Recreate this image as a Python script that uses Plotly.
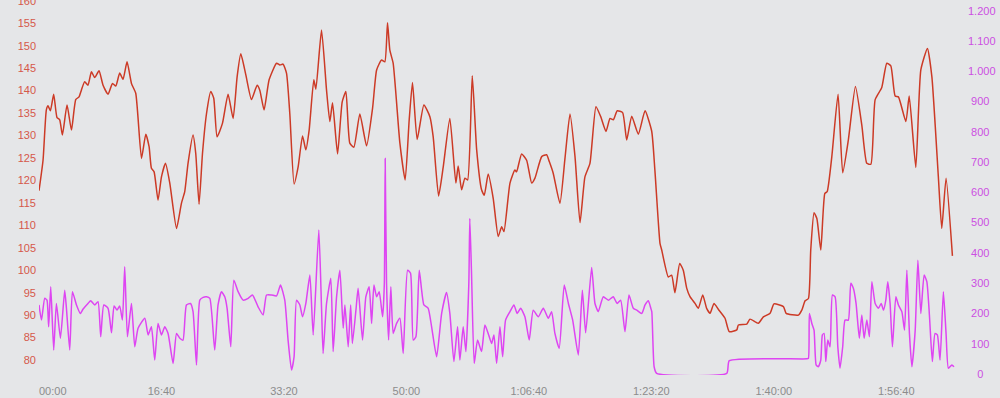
import plotly.graph_objects as go

# ---- data (time in seconds) ----
hr_time = [0, 33, 60, 74, 93, 120, 147, 169, 191, 229, 265, 300, 327, 346, 373, 400, 428, 455, 490, 523,
           564, 600, 627, 659, 686, 719, 755, 790, 837, 872, 899, 918, 940, 972, 1000, 1033, 1068, 1123, 1163, 1190,
           1217, 1258, 1280, 1307, 1335, 1368, 1403, 1427, 1454, 1498, 1544, 1585, 1618, 1648, 1689, 1735, 1781, 1803, 1838, 1879,
           1940, 1967, 1993, 2021, 2048, 2083, 2116, 2152, 2179, 2206, 2244, 2261, 2307, 2348, 2375, 2397, 2438, 2476, 2506, 2538,
           2571, 2620, 2675, 2724, 2757, 2797, 2824, 2846, 2865, 2892, 2947, 2990, 3023, 3050, 3088, 3143, 3192, 3219, 3263, 3301,
           3355, 3404, 3423, 3451, 3478, 3500, 3538, 3574, 3614, 3636, 3668, 3709, 3750, 3778, 3797, 3846, 3886, 3900, 3941, 3982,
           4023, 4050, 4105, 4145, 4167, 4199, 4254, 4295, 4336, 4377, 4418, 4458, 4499, 4548, 4587, 4630, 4663, 4690, 4722, 4766,
           4799, 4840, 4894, 4949, 5003, 5030, 5071, 5085, 5139, 5166, 5193, 5232, 5261, 5289, 5316, 5357, 5384, 5420, 5452, 5480,
           5512, 5547, 5602, 5637, 5698, 5711, 5780, 5806, 5874, 5915, 5970, 6002, 6079, 6101, 6201, 6229, 6256, 6283, 6302, 6329,
           6352, 6384, 6417, 6436, 6474, 6525, 6563, 6609, 6667, 6719, 6760, 6793, 6828, 6882, 6923, 6956, 6991, 7018, 7079, 7106,
           7160, 7201, 7255, 7291, 7344, 7372, 7407, 7459]
hr_bpm = [117.7, 124.5, 135.7, 136.6, 135.5, 139.2, 134, 133.5, 130.1, 136.8, 131.2, 138, 138.6, 140.1, 142, 141.2, 144.2, 142.9, 144.4, 141.2,
          139.2, 141.6, 141, 143.9, 142.5, 146.4, 141.6, 139.4, 124.9, 130.3, 127.5, 122.7, 121.9, 115.6, 120.8, 123.8, 119.4, 109.3, 114.9, 117.5,
          123.8, 130.1, 126, 114.7, 126, 134.9, 139.8, 138.3, 129.7, 132.7, 139.2, 133.8, 143.1, 148.2, 143.5, 138, 141.2, 140.1, 135.7, 142.4,
          146.1, 145.7, 145.9, 143.9, 134.9, 119.2, 123, 129.9, 126.8, 131.2, 142.4, 140.3, 153.5, 140.1, 133.1, 137.3, 125.9, 137.5, 139.8, 128.3,
          127.4, 134.8, 127.7, 136.1, 144.6, 146.8, 146.4, 155.1, 149, 146.1, 128.3, 120.1, 133.5, 141.8, 129.1, 136.8, 134.2, 129.7, 116.5, 123,
          133.8, 119.4, 123.2, 117.9, 120.5, 120.1, 143.3, 126.8, 117.9, 116.7, 121.4, 116, 107.5, 109.7, 108.6, 119.4, 122.3, 121.9, 125.9, 124.5,
          119.4, 120.5, 125.3, 125.7, 124.2, 121.6, 114.9, 124.9, 134.8, 125.3, 110.6, 120.8, 123.8, 136.4, 134.2, 130.9, 133.8, 133.5, 135.5, 135.1,
          129, 134.3, 130.3, 135.5, 131, 122, 106, 104.5, 98.5, 98.9, 95, 101.5, 100, 96, 94.1, 92.6, 91.5, 94.5, 91.5, 90.4,
          92.6, 91.3, 89.3, 86.3, 86.7, 87.8, 88, 89.1, 88.2, 89.6, 90.4, 92.5, 91.9, 90.4, 90, 91.1, 93.2, 93.7, 104.5, 112.8,
          111.5, 104.5, 117.1, 117.5, 125.3, 139.2, 121.7, 129, 140.9, 132.3, 123.8, 123.6, 138, 140.7, 146.1, 145.5, 138.8, 138.6, 133.1, 138.8,
          122.9, 144.6, 149.4, 143.1, 120.8, 109.3, 120.5, 103.2]

pw_time = [0, 20, 47, 65, 79, 96, 120, 142, 175, 210, 224, 251, 273, 306, 338, 359, 400, 422, 455, 482,
           504, 529, 564, 592, 613, 637, 659, 681, 700, 722, 755, 782, 809, 864, 891, 918, 945, 972, 1000, 1027,
           1054, 1095, 1123, 1150, 1176, 1204, 1237, 1258, 1286, 1313, 1340, 1368, 1395, 1435, 1462, 1490, 1517, 1536, 1566, 1591,
           1626, 1667, 1708, 1743, 1789, 1830, 1858, 1899, 1940, 1972, 2007, 2034, 2062, 2083, 2103, 2130, 2152, 2179, 2212, 2239,
           2285, 2307, 2320, 2348, 2383, 2402, 2430, 2457, 2484, 2498, 2525, 2545, 2559, 2588, 2606, 2642, 2669, 2696, 2716, 2735,
           2757, 2778, 2806, 2820, 2827, 2838, 2855, 2873, 2892, 2920, 2947, 2974, 3010, 3034, 3056, 3078, 3105, 3143, 3178, 3206,
           3247, 3288, 3328, 3355, 3388, 3418, 3437, 3464, 3486, 3510, 3518, 3532, 3554, 3581, 3614, 3641, 3668, 3696, 3715, 3737,
           3764, 3786, 3810, 3846, 3878, 3905, 3933, 3968, 4003, 4036, 4077, 4118, 4159, 4186, 4213, 4248, 4289, 4323, 4358, 4404,
           4437, 4464, 4513, 4540, 4567, 4608, 4649, 4689, 4721, 4750, 4785, 4818, 4853, 4881, 4922, 4949, 4976, 4996, 5004, 5023,
           5044, 5616, 5637, 6270, 6283, 6291, 6311, 6329, 6346, 6364, 6384, 6397, 6411, 6425, 6441, 6460, 6479, 6501, 6523, 6541,
           6563, 6582, 6609, 6629, 6650, 6672, 6699, 6719, 6738, 6760, 6781, 6801, 6828, 6855, 6877, 6896, 6915, 6931, 6950, 6969,
           6997, 7018, 7046, 7068, 7087, 7108, 7128, 7155, 7177, 7201, 7228, 7250, 7271, 7295, 7317, 7336, 7358, 7385, 7407, 7426,
           7454, 7472]
pw_watts = [228, 178, 250, 244, 156, 288, 79, 233, 118, 277, 217, 79, 272, 228, 200, 214, 233, 242, 228, 239,
            123, 228, 217, 136, 225, 211, 225, 178, 354, 123, 233, 90, 151, 184, 129, 156, 46, 167, 129, 156,
            134, 35, 134, 118, 112, 228, 233, 206, 30, 244, 253, 255, 250, 79, 228, 272, 255, 217, 90, 310,
            272, 244, 250, 261, 222, 195, 261, 261, 258, 294, 244, 112, 13, 57, 244, 228, 189, 233, 327, 129,
            476, 222, 68, 233, 316, 74, 255, 343, 151, 228, 90, 228, 101, 211, 283, 112, 255, 288, 167, 294,
            255, 272, 189, 300, 712, 300, 112, 288, 134, 167, 184, 68, 343, 333, 112, 123, 343, 228, 217, 156,
            57, 200, 269, 200, 41, 156, 46, 156, 74, 300, 514, 333, 35, 112, 74, 162, 134, 101, 129, 35,
            156, 57, 178, 206, 228, 200, 217, 189, 112, 211, 189, 217, 184, 206, 134, 85, 294, 233, 178, 63,
            277, 136, 352, 233, 206, 255, 244, 255, 233, 244, 140, 261, 217, 211, 200, 228, 242, 217, 206, 24,
            2, 2, 44, 50, 52, 200, 167, 145, 30, 24, 46, 129, 134, 41, 112, 90, 261, 255, 90, 19,
            90, 178, 178, 300, 283, 233, 118, 195, 118, 178, 123, 305, 233, 217, 233, 211, 244, 305, 233, 90,
            255, 228, 206, 145, 343, 134, 24, 145, 376, 200, 327, 305, 195, 41, 134, 129, 46, 272, 134, 19,
            30, 24]

x_tick_vals = [0, 1000, 2000, 3000, 4000, 5000, 6000, 7000]
x_tick_text = ["00:00", "16:40", "33:20", "50:00", "1:06:40", "1:23:20", "1:40:00", "1:56:40"]
hr_ticks = list(range(80, 165, 5))
pw_ticks = list(range(0, 1300, 100))

# ---- styling ----
BG = "#e5e6e8"
RED = "#cc3a26"
PURPLE = "#de45f2"
FONT = "Liberation Sans, Arial, Helvetica, sans-serif"
FIG_SP = "\u2007"
PUNC_SP = "\u2008"


def pw_label(v):
    s = f"{v:,}".replace(",", ".")
    if len(s) == 1:
        return FIG_SP + PUNC_SP + s
    if len(s) == 3:
        return PUNC_SP + s
    return s


x_text = [(FIG_SP * 4 + PUNC_SP + t) if i == 0 else t for i, t in enumerate(x_tick_text)]

fig = go.Figure()
fig.add_trace(go.Scatter(x=pw_time, y=pw_watts, mode="lines", yaxis="y2",
                         line=dict(color=PURPLE, width=1.5, shape="spline", smoothing=0.5),
                         hoverinfo="skip", showlegend=False))
fig.add_trace(go.Scatter(x=hr_time, y=hr_bpm, mode="lines", yaxis="y",
                         line=dict(color=RED, width=1.5, shape="spline", smoothing=0.5),
                         hoverinfo="skip", showlegend=False))

fig.update_layout(
    width=1000, height=398,
    margin=dict(l=39, r=45, t=0, b=23),
    paper_bgcolor=BG, plot_bgcolor=BG,
    font=dict(family=FONT, size=11),
    xaxis=dict(range=[0, 7480], tickvals=x_tick_vals, ticktext=x_text,
               showgrid=False, zeroline=False, showline=False, ticks="",
               tickfont=dict(color="#8c8c8c", size=11), automargin=False,
               ticklabelstandoff=8),
    yaxis=dict(range=[76.66, 160.18], tickvals=hr_ticks, ticktext=[str(v) for v in hr_ticks],
               showgrid=False, zeroline=False, showline=False, ticks="",
               tickfont=dict(color="#d5584a", size=11), automargin=False,
               ticklabelstandoff=2, ticklabeloverflow="allow"),
    yaxis2=dict(range=[-3.3, 1235.3], overlaying="y", side="right",
                tickvals=pw_ticks, ticktext=[pw_label(v) for v in pw_ticks],
                showgrid=False, zeroline=False, showline=False, ticks="",
                tickfont=dict(color="#cc4fe2", size=11), automargin=False,
                ticklabelstandoff=12, ticklabeloverflow="allow"),
)

fig.write_html(
    "out.html",
    config={"displayModeBar": False},
    post_script="document.body.style.margin='0';document.body.style.overflow='hidden';"
                "document.body.style.background='" + BG + "';",
)
